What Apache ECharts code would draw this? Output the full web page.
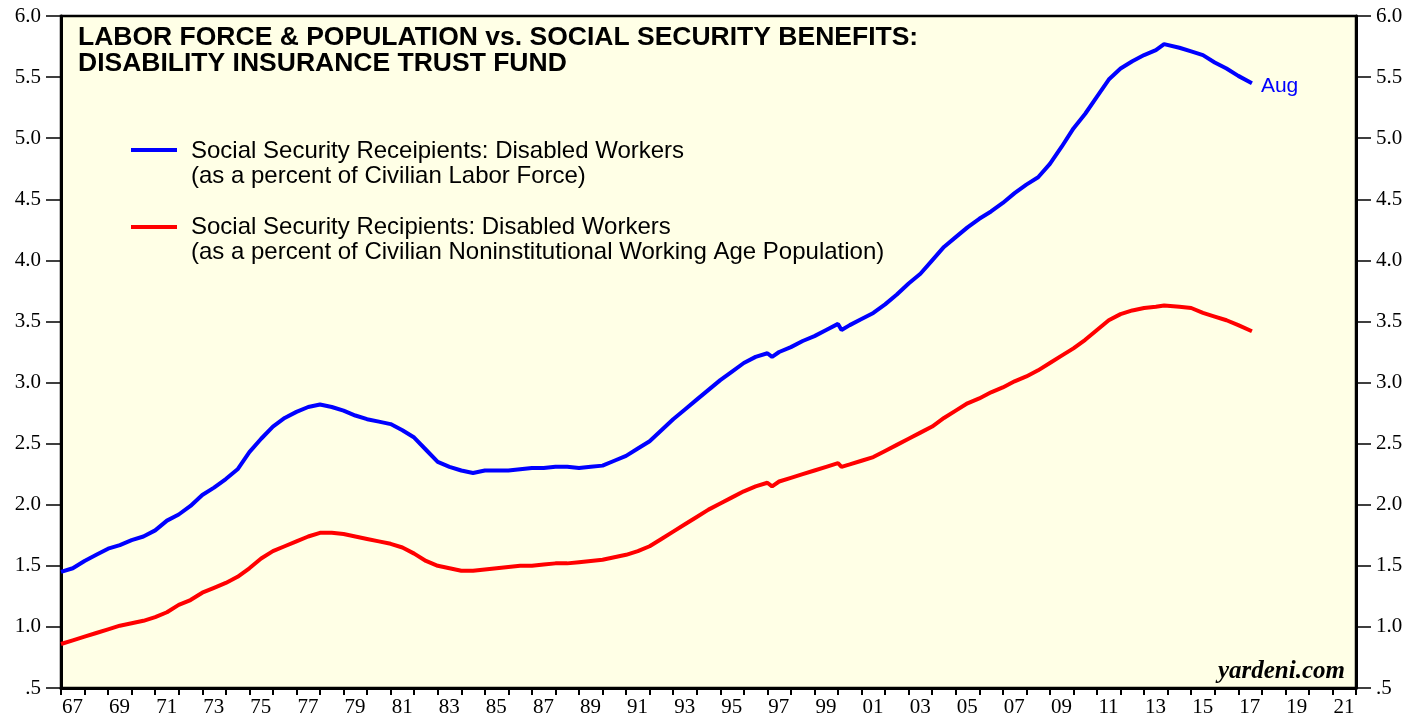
<!DOCTYPE html>
<html>
<head>
<meta charset="utf-8">
<script src="https://cdn.jsdelivr.net/npm/echarts@6/dist/echarts.min.js"></script>
<style>
  html, body { margin: 0; padding: 0; background: #fff; }
  #chart { width: 1422px; height: 719px; }
</style>
</head>
<body>
<div id="chart"></div>
<script>
// decimal years
var years = [
	1967.0, 1967.5, 1968.0, 1968.5, 1969.0, 1969.5, 1970.0, 1970.5, 1971.0, 1971.5,
	1972.0, 1972.5, 1973.0, 1973.5, 1974.0, 1974.5, 1975.0, 1975.5, 1976.0, 1976.5,
	1977.0, 1977.5, 1978.0, 1978.5, 1979.0, 1979.5, 1980.0, 1980.5, 1981.0, 1981.5,
	1982.0, 1982.5, 1983.0, 1983.5, 1984.0, 1984.5, 1985.0, 1985.5, 1986.0, 1986.5,
	1987.0, 1987.5, 1988.0, 1988.5, 1989.0, 1989.5, 1990.0, 1990.5, 1991.0, 1991.5,
	1992.0, 1992.5, 1993.0, 1993.5, 1994.0, 1994.5, 1995.0, 1995.5, 1996.0, 1996.5,
	1997.0, 1997.2, 1997.5, 1998.0, 1998.5, 1999.0, 1999.5, 2000.0, 2000.15, 2000.5,
	2001.0, 2001.5, 2002.0, 2002.5, 2003.0, 2003.5, 2004.0, 2004.5, 2005.0, 2005.5,
	2006.0, 2006.5, 2007.0, 2007.5, 2008.0, 2008.5, 2009.0, 2009.5, 2010.0, 2010.5,
	2011.0, 2011.5, 2012.0, 2012.5, 2013.0, 2013.5, 2013.85, 2014.5, 2015.0, 2015.5,
	2016.0, 2016.5, 2017.0, 2017.58
];
// disabled workers as % of civilian labor force
var laborForce = [
	1.45, 1.48, 1.54, 1.59, 1.64, 1.67, 1.71, 1.74, 1.79, 1.87,
	1.92, 1.99, 2.08, 2.14, 2.21, 2.29, 2.43, 2.54, 2.64, 2.71,
	2.76, 2.80, 2.82, 2.80, 2.77, 2.73, 2.70, 2.68, 2.66, 2.61,
	2.55, 2.45, 2.35, 2.31, 2.28, 2.26, 2.28, 2.28, 2.28, 2.29,
	2.30, 2.30, 2.31, 2.31, 2.30, 2.31, 2.32, 2.36, 2.40, 2.46,
	2.52, 2.61, 2.70, 2.78, 2.86, 2.94, 3.02, 3.09, 3.16, 3.21,
	3.24, 3.21, 3.25, 3.29, 3.34, 3.38, 3.43, 3.48, 3.43, 3.47,
	3.52, 3.57, 3.64, 3.72, 3.81, 3.89, 4.00, 4.11, 4.19, 4.27,
	4.34, 4.40, 4.47, 4.55, 4.62, 4.68, 4.79, 4.93, 5.08, 5.20,
	5.34, 5.48, 5.57, 5.63, 5.68, 5.72, 5.77, 5.74, 5.71, 5.68,
	5.62, 5.57, 5.51, 5.45
];
// disabled workers as % of working age population
var population = [
	0.86, 0.89, 0.92, 0.95, 0.98, 1.01, 1.03, 1.05, 1.08, 1.12,
	1.18, 1.22, 1.28, 1.32, 1.36, 1.41, 1.48, 1.56, 1.62, 1.66,
	1.70, 1.74, 1.77, 1.77, 1.76, 1.74, 1.72, 1.70, 1.68, 1.65,
	1.60, 1.54, 1.50, 1.48, 1.46, 1.46, 1.47, 1.48, 1.49, 1.50,
	1.50, 1.51, 1.52, 1.52, 1.53, 1.54, 1.55, 1.57, 1.59, 1.62,
	1.66, 1.72, 1.78, 1.84, 1.90, 1.96, 2.01, 2.06, 2.11, 2.15,
	2.18, 2.15, 2.19, 2.22, 2.25, 2.28, 2.31, 2.34, 2.31, 2.33,
	2.36, 2.39, 2.44, 2.49, 2.54, 2.59, 2.64, 2.71, 2.77, 2.83,
	2.87, 2.92, 2.96, 3.01, 3.05, 3.10, 3.16, 3.22, 3.28, 3.35,
	3.43, 3.51, 3.56, 3.59, 3.61, 3.62, 3.63, 3.62, 3.61, 3.57,
	3.54, 3.51, 3.47, 3.42
];
var titleLines = ['LABOR FORCE & POPULATION vs. SOCIAL SECURITY BENEFITS:', 'DISABILITY INSURANCE TRUST FUND'];
var legendBlue = ['Social Security Receipients: Disabled Workers', '(as a percent of Civilian Labor Force)'];
var legendRed = ['Social Security Recipients: Disabled Workers', '(as a percent of Civilian Noninstitutional Working Age Population)'];

function pairs(xs, ys){
	var out = [];
	for(var i = 0; i < xs.length; i++){
		out.push([xs[i], ys[i]]);
	}
	return out;
}

var serif = 'Liberation Serif, Times New Roman, serif';
var sans = 'Liberation Sans, Arial, sans-serif';

function yLabel(v){
	return v == 0.5 ? '.5' : v.toFixed(1);
}

function makeYAxis(position){
	return {
		type: 'value', position: position, min: 0.5, max: 6, interval: 0.5,
		axisLine: {show: true, lineStyle: {color: '#000', width: 3}},
		axisTick: {show: true, length: 15, lineStyle: {color: '#000', width: 1.5}},
		axisLabel: {color: '#000', fontFamily: serif, fontSize: 21, margin: 20, formatter: yLabel},
		splitLine: {show: false}
	};
}

var chart = echarts.init(document.getElementById('chart'));
chart.setOption({
	animation: false,
	backgroundColor: '#fff',
	grid: {left: 61, right: 66, top: 16, bottom: 31, show: true, backgroundColor: '#FFFFE6', borderColor: '#000', borderWidth: 2.5},
	xAxis: {
		type: 'value', min: 1967, max: 2022, interval: 1,
		axisLine: {show: true, lineStyle: {color: '#000', width: 3}},
		axisTick: {show: true, length: 7, lineStyle: {color: '#000', width: 2}},
		axisLabel: {
			color: '#000', fontFamily: serif, fontSize: 21, margin: 9,
			padding: [0, 0, 0, 23],
			formatter: function(v){
				if(v % 2 == 0 || v > 2021) return '';
				return String(v).slice(2);
			}
		},
		splitLine: {show: false}
	},
	yAxis: [makeYAxis('left'), makeYAxis('right')],
	series: [
		{
			type: 'line', name: 'labor', data: pairs(years, laborForce),
			showSymbol: false, lineStyle: {color: '#0000FF', width: 4}, itemStyle: {color: '#0000FF'},
			endLabel: {show: true, formatter: 'Aug', color: '#0000FF', fontFamily: sans, fontSize: 21, distance: 9, offset: [0, 3]}
		},
		{
			type: 'line', name: 'population', data: pairs(years, population),
			showSymbol: false, lineStyle: {color: '#FF0000', width: 4}, itemStyle: {color: '#FF0000'}
		}
	],
	graphic: [
		{type: 'text', left: 78, top: 24, style: {text: titleLines.join('\n'), font: 'bold 26.5px ' + sans, fill: '#000', lineHeight: 26}},
		{type: 'line', shape: {x1: 131, y1: 150, x2: 177, y2: 150}, style: {stroke: '#0000FF', lineWidth: 4}},
		{type: 'text', left: 191, top: 139, style: {text: legendBlue.join('\n'), font: '24px ' + sans, fill: '#000', lineHeight: 25}},
		{type: 'line', shape: {x1: 131, y1: 227, x2: 177, y2: 227}, style: {stroke: '#FF0000', lineWidth: 4}},
		{type: 'text', left: 191, top: 215, style: {text: legendRed.join('\n'), font: '24px ' + sans, fill: '#000', lineHeight: 25}},
		{type: 'text', right: 77, top: 659, style: {text: 'yardeni.com', font: 'italic bold 25px ' + serif, fill: '#000'}}
	]
});
</script>
</body>
</html>
